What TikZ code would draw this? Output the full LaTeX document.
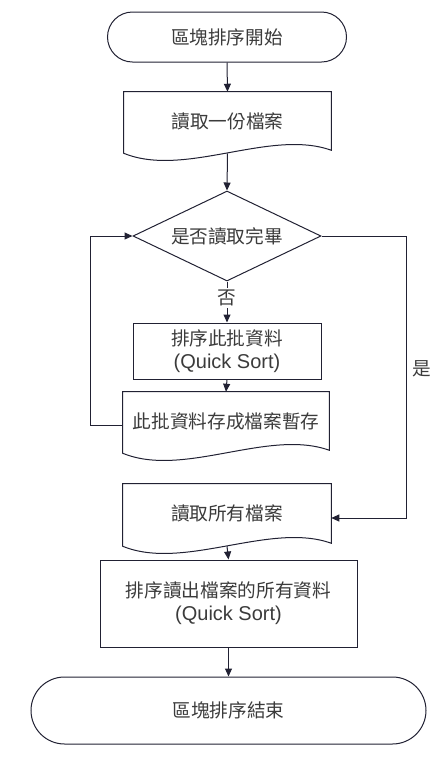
\documentclass[tikz,border=0pt]{standalone}
\usepackage{fontspec}
\setmainfont{Liberation Sans}
\newfontfamily\cjk{Noto Sans CJK TC}
\usetikzlibrary{shapes.geometric,shapes.misc,arrows.meta,calc}

\newlength{\du}
\setlength{\du}{0.75pt}
\definecolor{dialinecolor}{rgb}{0.130000, 0.130000, 0.200000}
\definecolor{diatextcolor}{rgb}{0.230000, 0.230000, 0.230000}

\tikzset{
  flowline/.style={draw=dialinecolor, line width=1.000000\du},
  flowarrow/.style={flowline, -{Triangle[length=6pt,width=5.25pt]}},
  flowtext/.style={text=diatextcolor, font=\fontsize{14}{17}\selectfont\cjk, align=center, inner sep=0pt},
  terminal/.style={flowtext, flowline, rounded rectangle},
  process/.style={flowtext, flowline, rectangle},
  decision/.style={flowtext, flowline, diamond, shape aspect=2.09},
  docbox/.style={flowtext, rectangle}
}

% document outline with wavy bottom
\newcommand{\docwave}[1]{%
  \draw[flowline] (#1.south east) -- (#1.north east) -- (#1.north west) -- ($(#1.south west)+(0,3)$)
    .. controls ($(#1.south west)+(61,28)$) and ($(#1.south east)+(-61,-22)$) .. (#1.south east) -- cycle;
  \coordinate (#1-w) at ($(#1.south)+(0,3)$);}
\newcommand{\qsort}{\rmfamily\fontsize{15}{17}\selectfont(Quick Sort)}

\begin{document}
\begin{tikzpicture}[x=1\du, y=-1\du]
\useasboundingbox (0,0) rectangle (434,769);

% nodes
\node[terminal, minimum width=239\du, minimum height=50\du] (start) at (227,37) {區塊排序開始};
\node[docbox, minimum width=207\du, minimum height=58\du] (doc1) at (227.5,121) {讀取一份檔案};
\docwave{doc1}
\node[decision, minimum width=188\du, minimum height=90\du] (dec) at (227,236) {是否讀取完畢};
\node[flowtext, inner sep=2\du] (no) at (227,298) {否};
\node[process, minimum width=188\du, minimum height=56\du] (sort1) at (227,351) {排序此批資料\\\qsort};
\node[docbox, minimum width=206\du, minimum height=58\du] (doc2) at (226,421) {此批資料存成檔案暫存};
\docwave{doc2}
\node[docbox, minimum width=208\du, minimum height=59\du] (doc3) at (227,513.5) {讀取所有檔案};
\docwave{doc3}
\node[process, minimum width=257\du, minimum height=87\du] (sort2) at (228.5,603.5) {排序讀出檔案的所有資料\\\qsort};
\node[terminal, minimum width=395\du, minimum height=67\du] (finish) at (228.5,710.5) {區塊排序結束};
\node[flowtext] (yes) at (422,369) {是};

% connectors
\draw[flowarrow] (start.south) -- (doc1.north);
\draw[flowarrow] (doc1-w) -- (dec.north);
\draw[flowline] (dec.south) -- (no.north);
\draw[flowarrow] (no.south) -- (sort1.north);
\draw[flowarrow] (sort1.south) -- (doc2.north);
\draw[flowarrow] ($(doc2.west)+(0,4)$) -- ++(-32,0) |- (dec.west);
\draw[flowarrow] (dec.east) -- ++(85,0) |- ($(doc3.east)+(0,4.5)$);
\draw[flowarrow] (doc3-w) -- (sort2.north);
\draw[flowarrow] (sort2.south) -- (finish.north);
\end{tikzpicture}
\end{document}
